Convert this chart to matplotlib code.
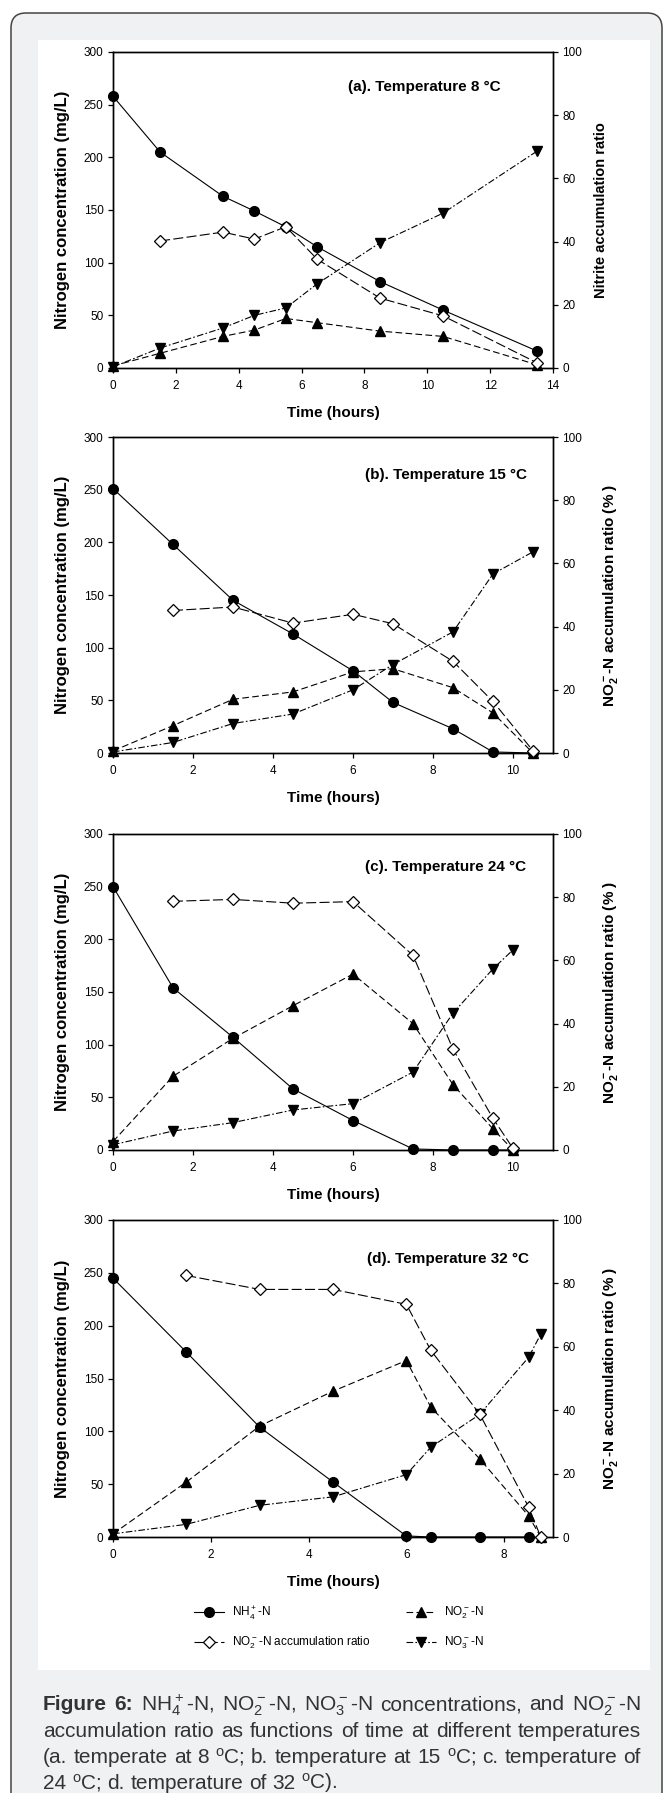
import numpy as np
import matplotlib
matplotlib.use('Agg')
import matplotlib.pyplot as plt
from matplotlib.patches import FancyBboxPatch, Rectangle

# ---------------- data ----------------
a_time = [0, 1.5, 3.5, 4.5, 5.5, 6.5, 8.5, 10.5, 13.5]
a_nh4 = [258, 205, 163, 149, 134, 115, 82, 55, 16]
a_no2 = [2, 14, 30, 36, 47, 43, 35, 30, 3]
a_no3 = [1, 19, 38, 50, 57, 80, 119, 147, 206]
a_ratio_time = [1.5, 3.5, 4.5, 5.5, 6.5, 8.5, 10.5, 13.5]
a_ratio = [40.2, 43.0, 40.8, 44.7, 34.4, 22.1, 16.5, 1.6]

b_time = [0, 1.5, 3, 4.5, 6, 7, 8.5, 9.5, 10.5]
b_nh4 = [251, 198, 145, 113, 78, 48, 23, 1, 0]
b_no2 = [2, 26, 51, 58, 77, 80, 62, 38, 0]
b_no3 = [1, 10, 28, 37, 60, 84, 115, 170, 191]
b_ratio_time = [1.5, 3, 4.5, 6, 7, 8.5, 9.5, 10.5]
b_ratio = [45.1, 46.2, 41.1, 43.9, 40.9, 29.0, 16.3, 0.7]

c_time = [0, 1.5, 3, 4.5, 6, 7.5, 8.5, 9.5, 10]
c_nh4 = [250, 154, 107, 58, 28, 1, 0, 0, 0]
c_no2 = [8, 70, 106, 137, 167, 120, 62, 20, 0]
c_no3 = [5, 18, 26, 38, 44, 74, 130, 172, 190]
c_ratio_time = [1.5, 3, 4.5, 6, 7.5, 8.5, 9.5, 10]
c_ratio = [78.7, 79.3, 78.1, 78.6, 61.6, 31.9, 10.0, 0.5]

d_time = [0, 1.5, 3, 4.5, 6, 6.5, 7.5, 8.5, 8.75]
d_nh4 = [245, 175, 104, 52, 1, 0, 0, 0, np.nan]
d_no2 = [3, 52, 105, 138, 167, 123, 74, 20, 0]
d_no3 = [3, 12, 30, 38, 59, 85, 116, 170, 192]
d_ratio_time = [1.5, 3, 4.5, 6, 6.5, 7.5, 8.5, 8.75]
d_ratio = [82.5, 78.1, 78.1, 73.4, 58.9, 38.8, 9.5, 0.0]

x_max = [14, 11, 11, 9]
titles = ["(a). Temperature 8 °C", "(b). Temperature 15 °C",
          "(c). Temperature 24 °C", "(d). Temperature 32 °C"]
right_labels = ["Nitrite accumulation ratio",
                r"NO$\mathregular{_2^-}$-N accumulation ratio (% )",
                r"NO$\mathregular{_2^-}$-N accumulation ratio (% )",
                r"NO$\mathregular{_2^-}$-N accumulation ratio (% )"]
left_label = "Nitrogen concentration (mg/L)"
x_label = "Time (hours)"
legend_labels = [r"NH$\mathregular{_4^+}$-N", r"NO$\mathregular{_2^-}$-N",
                 r"NO$\mathregular{_2^-}$-N accumulation ratio", r"NO$\mathregular{_3^-}$-N"]

# ---------------- figure ----------------
W, H = 666, 1793
fig = plt.figure(figsize=(W / 100, H / 100), dpi=100)
fig.patch.set_facecolor('white')
REG = ['Liberation Sans', 'DejaVu Sans']
plt.rcParams['font.family'] = REG

def fx(px):
    return px / W

def fy(py):
    return 1 - py / H

inch = fig.dpi_scale_trans
outer = FancyBboxPatch((11 / 100, (H - 1850) / 100), (662 - 11) / 100, (1850 - 13) / 100,
                       boxstyle="round,pad=0,rounding_size=0.15", transform=inch,
                       facecolor='#f0f1f3', edgecolor='#444444', linewidth=1.1, zorder=-3)
fig.add_artist(outer)
inner = Rectangle((38 / 100, (H - 1670) / 100), (650 - 38) / 100, (1670 - 40) / 100,
                  transform=inch, facecolor='white', edgecolor='none', zorder=-2)
fig.add_artist(inner)

panels = [
    (a_time, a_nh4, a_no2, a_no3, a_ratio_time, a_ratio),
    (b_time, b_nh4, b_no2, b_no3, b_ratio_time, b_ratio),
    (c_time, c_nh4, c_no2, c_no3, c_ratio_time, c_ratio),
    (d_time, d_nh4, d_no2, d_no3, d_ratio_time, d_ratio),
]
tops = [52, 437, 834, 1220]
bottoms = [368, 753, 1150, 1537]
title_pos = [(0.88, 0.889), (0.94, 0.88), (0.94, 0.895), (0.945, 0.877)]
rlabel_x = [1.11, 1.13, 1.13, 1.13]
rlabel_fs = [10.5, 11, 11, 11]
LAB_FS = 11

lw = 0.8
handles = None
for i, (t, nh4, no2, no3, rt, ratio) in enumerate(panels):
    top, bot = tops[i], bottoms[i]
    ax = fig.add_axes([fx(113), fy(bot), fx(553) - fx(113), (bot - top) / H])
    ax.set_facecolor('none')
    ax2 = ax.twinx()
    l1, = ax.plot(t, nh4, '-', color='k', lw=lw, marker='o', ms=7, mfc='k', mec='k',
                  clip_on=False, zorder=3)
    l2, = ax.plot(t, no2, color='k', lw=lw, ls=(0, (6, 3)), marker='^', ms=7.5, mfc='k',
                  mec='k', clip_on=False, zorder=3)
    l4, = ax.plot(t, no3, color='k', lw=lw, ls=(0, (6, 2, 1.5, 2)), marker='v', ms=7.5,
                  mfc='k', mec='k', clip_on=False, zorder=3)
    l3, = ax2.plot(rt, ratio, color='k', lw=lw, ls=(0, (9, 3)), marker='D', ms=6, mfc='white',
                   mec='k', mew=0.9, clip_on=False, zorder=4)
    if i == 3:
        handles = [l1, l3, l2, l4]
    ax.set_xlim(0, x_max[i])
    ax.set_ylim(0, 300)
    ax2.set_ylim(0, 100)
    ax.set_xticks(np.arange(0, x_max[i] + 0.01, 2))
    ax.set_yticks(np.arange(0, 301, 50))
    ax2.set_yticks(np.arange(0, 101, 20))
    for a in (ax, ax2):
        for s in a.spines.values():
            s.set_linewidth(1.0)
    ax.tick_params(direction='out', length=3.4, width=0.9, labelsize=8.5, pad=3.4,
                   right=False, top=False)
    ax.tick_params(axis='x', pad=5.0)
    ax2.tick_params(direction='out', length=3.4, width=0.9, labelsize=8.5, pad=3.4)
    ax.set_ylabel(left_label, weight='bold', fontsize=12, va='center')
    ax.yaxis.set_label_coords(-0.114, 0.5)
    ax2.set_ylabel(right_labels[i], weight='bold', fontsize=rlabel_fs[i], va='center',
                   rotation=90)
    ax2.yaxis.set_label_coords(rlabel_x[i], 0.5)
    ax.set_xlabel(x_label, weight='bold', fontsize=LAB_FS, va='center')
    ax.xaxis.set_label_coords(0.5, -0.142)
    tx, ty = title_pos[i]
    ax.text(tx, ty, titles[i], transform=ax.transAxes, ha='right', va='center',
            weight='bold', fontsize=LAB_FS)

# legend entries (one per position)
leg_pos = [(194, 1613), (194, 1643), (406, 1613), (406, 1643)]
leg_order_labels = [legend_labels[0], legend_labels[2], legend_labels[1], legend_labels[3]]
for h, lab, (px, py) in zip(handles, leg_order_labels, leg_pos):
    fs = 8.5
    fig.legend([h], [lab], loc='center left', bbox_to_anchor=(fx(px), fy(py)),
               frameon=False, borderpad=0, borderaxespad=0,
               handlelength=30 / (fs * 100 / 72), handletextpad=8 / (fs * 100 / 72),
               prop=dict(size=fs))

# caption with justification
renderer = fig.canvas.get_renderer()
cap_fs = 15
cap_color = '#333333'
cap_lines = [
    [("Figure", True), ("6:", True), (r"NH$\mathregular{_4^+}$-N,", False),
     (r"NO$\mathregular{_2^-}$-N,", False), (r"NO$\mathregular{_3^-}$-N", False),
     ("concentrations,", False), ("and", False), (r"NO$\mathregular{_2^-}$-N", False)],
    [(w, False) for w in "accumulation ratio as functions of time at different temperatures".split()],
    [(w, False) for w in ["(a.", "temperate", "at", "8", r"$\mathregular{^o}$C;", "b.",
                          "temperature", "at", "15", r"$\mathregular{^o}$C;", "c.",
                          "temperature", "of"]],
    [(w, False) for w in ["24", r"$\mathregular{^o}$C;", "d.", "temperature", "of", "32",
                          r"$\mathregular{^o}$C)."]],
]
baselines = [1710.5, 1737, 1763, 1789]
x0, x1 = 43, 641
tmp1 = fig.text(0, 0, "a a", fontsize=cap_fs)
tmp2 = fig.text(0, 0, "aa", fontsize=cap_fs)
space = tmp1.get_window_extent(renderer).width - tmp2.get_window_extent(renderer).width
tmp1.remove()
tmp2.remove()
for li, (words, base) in enumerate(zip(cap_lines, baselines)):
    texts = []
    widths = []
    for w, bold in words:
        tt = fig.text(0, fy(base), w, fontsize=cap_fs,
                      weight='bold' if bold else 'normal', va='baseline', ha='left',
                      color=cap_color)
        texts.append(tt)
        widths.append(tt.get_window_extent(renderer).width)
    n = len(words)
    if li < 3:
        gap = (x1 - x0 - sum(widths)) / (n - 1)
    else:
        gap = space
    x = x0
    for tt, wd in zip(texts, widths):
        tt.set_x(fx(x))
        x += wd + gap

fig.savefig('out.png', dpi=100, facecolor='white')
